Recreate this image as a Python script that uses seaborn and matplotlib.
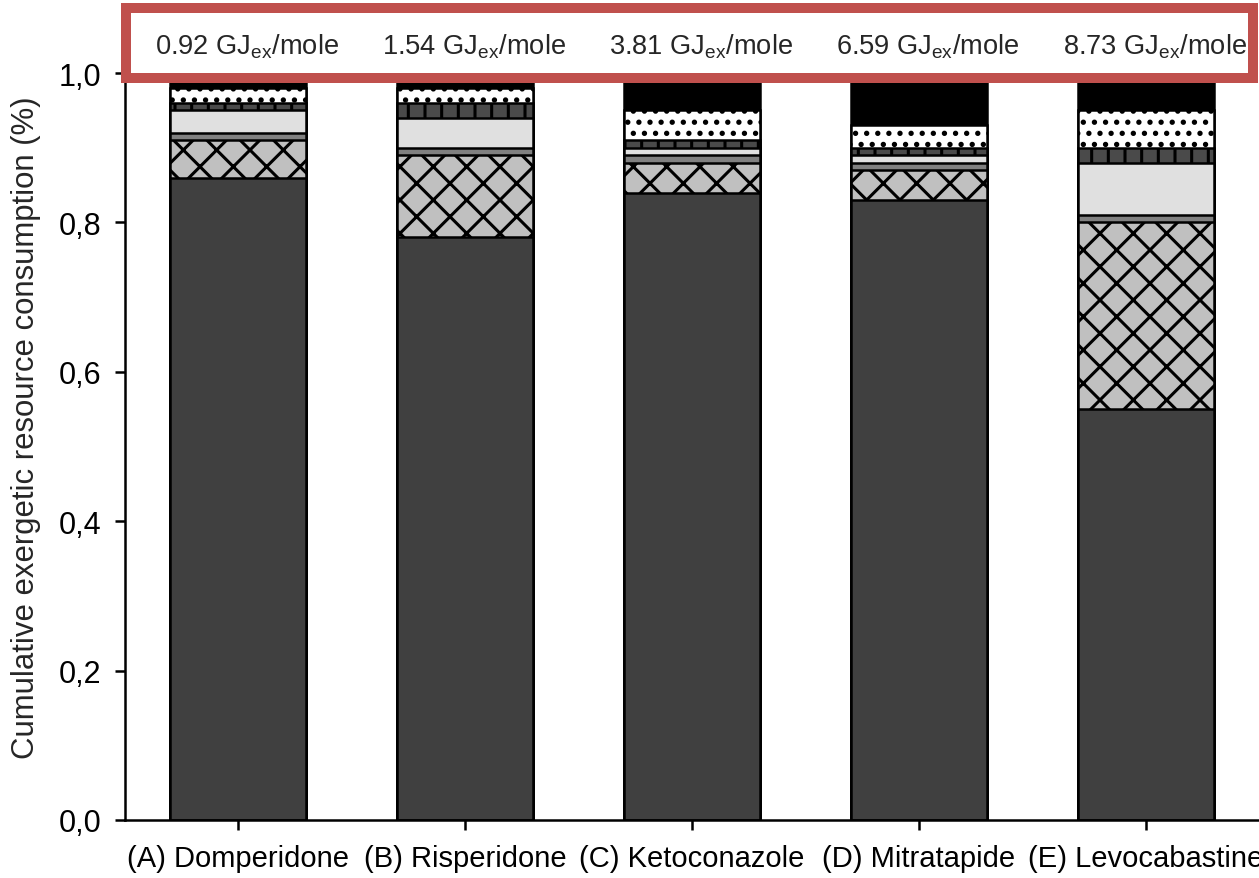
import matplotlib
matplotlib.use('Agg')
import matplotlib.pyplot as plt
import matplotlib.transforms as mtransforms
from matplotlib.patches import Rectangle
import seaborn as sns
import numpy as np

# ---------------- data ----------------
drugs = ['(A) Domperidone', '(B) Risperidone', '(C) Ketoconazole',
         '(D) Mitratapide', '(E) Levocabastine']
energy = ['0.92', '1.54', '3.81', '6.59', '8.73']

# stacked shares, bottom -> top
layer1 = [0.86, 0.78, 0.84, 0.83, 0.55]
layer2 = [0.05, 0.11, 0.04, 0.04, 0.25]
layer3 = [0.01, 0.01, 0.01, 0.01, 0.01]
layer4 = [0.03, 0.04, 0.01, 0.01, 0.07]
layer5 = [0.01, 0.02, 0.01, 0.01, 0.02]
layer6 = [0.02, 0.02, 0.04, 0.03, 0.05]
layer7 = [0.02, 0.02, 0.05, 0.07, 0.05]

yticks = [0.0, 0.2, 0.4, 0.6, 0.8, 1.0]
ytick_labels = ['0,0', '0,2', '0,4', '0,6', '0,8', '1,0']

# ---------------- styles ----------------
face_colors = ['#404040', '#c0c0c0', '#808080', '#e0e0e0', '#4a4a4a', '#ffffff', '#000000']
hatches = [None, 'xx', None, None, '||', '...', None]

sns.set_style('ticks')
plt.rcParams['font.family'] = ['Liberation Sans', 'DejaVu Sans']
plt.rcParams['hatch.linewidth'] = 1.1
plt.rcParams['axes.linewidth'] = 0.9

DPI = 200
fig = plt.figure(figsize=(1259 / DPI, 879 / DPI), dpi=DPI)
ax = fig.add_axes([125 / 1259, 58 / 879, 1134 / 1259, 747 / 879])

layers = [layer1, layer2, layer3, layer4, layer5, layer6, layer7]
cum = np.cumsum(np.array(layers), axis=0)

for i in reversed(range(len(layers))):
    kw = dict(x=drugs, y=cum[i], order=drugs, color=face_colors[i],
              saturation=1, edgecolor='black', linewidth=0.9, width=0.6, ax=ax)
    if hatches[i]:
        kw['hatch'] = hatches[i]
    sns.barplot(**kw)

ax.set_xlim(-0.5, 4.5)
ax.set_ylim(0, 1.0)
ax.set_yticks(yticks)
ax.set_yticklabels(ytick_labels)
ax.set_xlabel('')
ax.set_ylabel('Cumulative exergetic resource consumption (%)', fontsize=11.2)
ax.yaxis.set_label_coords(-0.074, 0.526)
ax.tick_params(axis='y', labelsize=11, length=3.6, width=0.9, pad=5, colors='black')
ax.tick_params(axis='x', labelsize=10.5, length=3.6, width=0.9, pad=5, colors='black')
for s in ['top', 'right']:
    ax.spines[s].set_visible(False)
for s in ['left', 'bottom']:
    ax.spines[s].set_color('black')

# red box with energy labels
rect = Rectangle((126 / 1259, 1 - 79 / 879), (1253 - 126) / 1259, (79 - 9) / 879,
                 transform=fig.transFigure, facecolor='white', edgecolor='#c0504d',
                 linewidth=3.6, clip_on=False, zorder=10)
ax.add_patch(rect)

trans = mtransforms.blended_transform_factory(ax.transData, fig.transFigure)
for i, e in enumerate(energy):
    ax.text(i + 0.04, 1 - 47 / 879, e + r' GJ$_{\mathregular{ex}}$/mole', transform=trans,
            ha='center', va='center', fontsize=9.8, zorder=11, clip_on=False)

fig.savefig('out.png', dpi=DPI)
